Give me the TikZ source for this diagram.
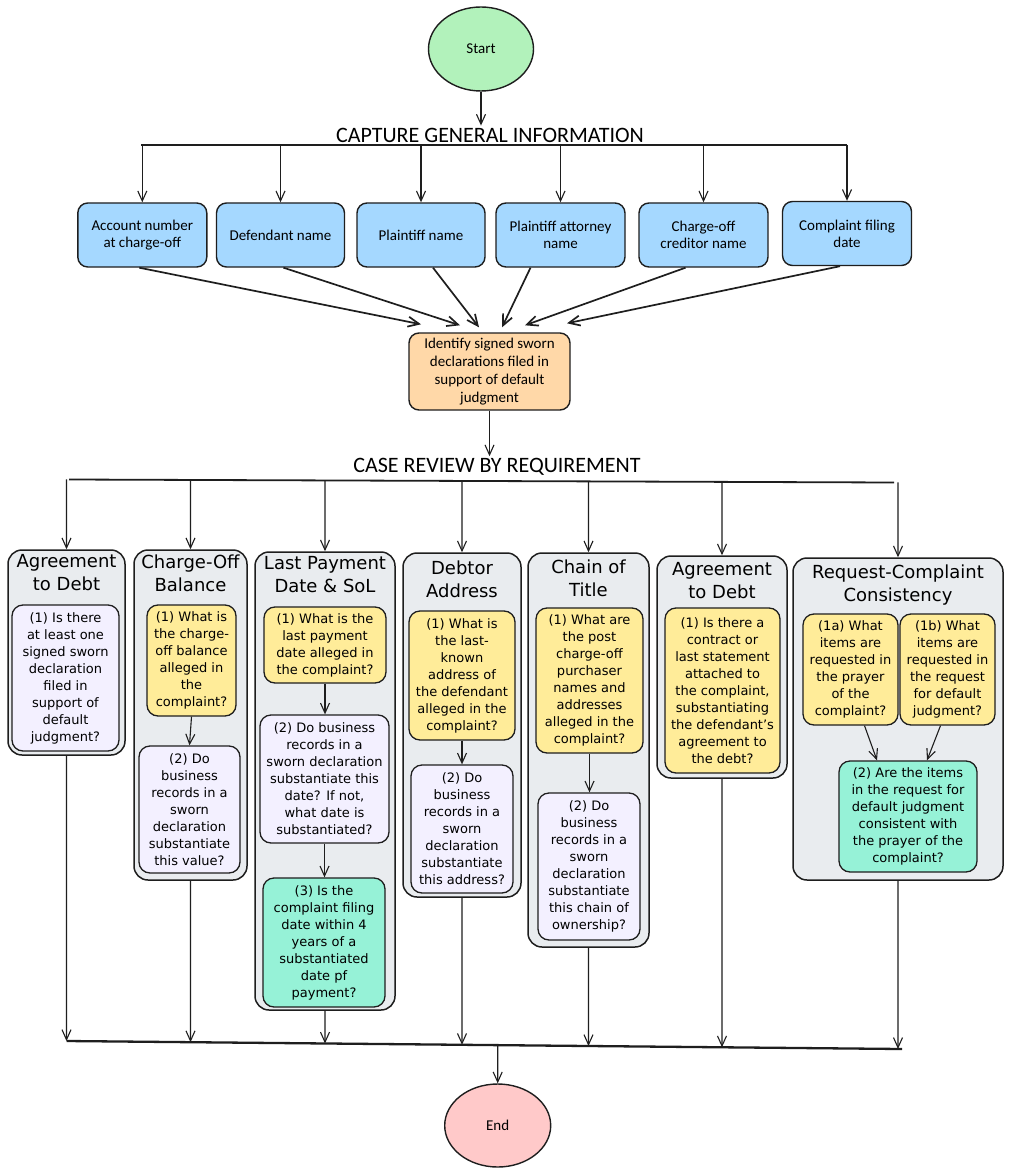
\documentclass[tikz,border=0pt]{standalone}
\usepackage{fontspec}
\setmainfont{DejaVu Sans}
\newfontfamily\handfont{Carlito}
\usetikzlibrary{arrows.meta,positioning,calc,shapes.geometric}
\definecolor{startgreen}{HTML}{B2F2BB}
\definecolor{endpink}{HTML}{FFC9C9}
\definecolor{infoblue}{HTML}{A5D8FF}
\definecolor{declorange}{HTML}{FFD8A8}
\definecolor{contgray}{HTML}{E9ECEF}
\definecolor{qyellow}{HTML}{FFEC99}
\definecolor{qlav}{HTML}{F3F0FF}
\definecolor{qgreen}{HTML}{96F2D7}
\definecolor{ink}{HTML}{1E1E1E}
\tikzset{
  oval/.style={ellipse, draw=ink, line width=1.4pt, inner sep=0pt,
    font=\handfont\fontsize{15}{17}\selectfont},
  infobox/.style={draw=ink, fill=infoblue, rounded corners=10pt, line width=1.4pt,
    align=center, inner sep=3pt, font=\handfont\fontsize{15}{17}\selectfont},
  declbox/.style={draw=ink, fill=declorange, rounded corners=10pt, line width=1.4pt,
    align=center, inner sep=3pt, font=\handfont\fontsize{15}{18}\selectfont},
  heading/.style={font=\handfont\fontsize{22}{24}\selectfont, inner sep=2pt},
  cont/.style={draw=ink, fill=contgray, rounded corners=14pt, line width=1.5pt, inner sep=0pt},
  ctitle/.style={align=center, inner sep=2pt, font=\fontsize{18}{23}\selectfont},
  qbox/.style={draw=ink, rounded corners=11pt, line width=1.3pt, align=center,
    inner sep=3pt, font=\fontsize{13}{17}\selectfont},
  qyel/.style={qbox, fill=qyellow},
  qlv/.style={qbox, fill=qlav},
  qgr/.style={qbox, fill=qgreen},
  arr/.style={draw=ink, line width=1.1pt, -{Straight Barb[length=10pt,width=9pt]}},
  thickarr/.style={draw=ink, line width=1.7pt, -{Straight Barb[length=11pt,width=10pt]}},
  barline/.style={draw=ink, line width=2.3pt},
}
\begin{document}
\begin{tikzpicture}[x=1pt,y=-1pt]
\useasboundingbox (0,0) rectangle (1011,1174);
\fill[white] (0,0) rectangle (1011,1174);

% ---------- top ----------
\node[oval, fill=startgreen, minimum width=105, minimum height=84] (start) at (481,49) {Start};
\node[heading] (title1) at (490,135) {CAPTURE GENERAL INFORMATION};
\coordinate (barA1) at (141,145);
\coordinate (barA2) at (847,145);
\draw[arr] (start.south) -- (start.south |- title1.north);
\draw[barline] (barA1) -- (barA2);

\node[infobox, minimum width=129, minimum height=64] (b1) at (142.3,235) {Account number\\at charge-off};
\node[infobox, minimum width=128, minimum height=64] (b2) at (280.5,235) {Defendant name};
\node[infobox, minimum width=128, minimum height=64] (b3) at (421,235) {Plaintiff name};
\node[infobox, minimum width=129, minimum height=64] (b4) at (560.5,235) {Plaintiff attorney\\name};
\node[infobox, minimum width=129, minimum height=64] (b5) at (703.5,235) {Charge-off\\creditor name};
\node[infobox, minimum width=129, minimum height=64] (b6) at (847,233.5) {Complaint filing\\date};

\foreach \bn in {b1,b2,b3,b4,b5,b6}
  \draw[arr] (\bn.north |- barA1) -- (\bn.north);

\node[declbox, minimum width=161, minimum height=77] (decl) at (489.5,371.5)
  {Identify signed sworn\\declarations filed in\\support of default\\judgment};

\draw[thickarr] ([xshift=-3pt]b1.south) -- ($(decl.north)+(-68.5,-8)$);
\draw[thickarr] ([xshift=3pt]b2.south) -- ($(decl.north)+(-29.5,-7)$);
\draw[thickarr] ([xshift=12pt]b3.south) -- ($(decl.north)+(-10.5,-5)$);
\draw[thickarr] ([xshift=-30pt]b4.south) -- ($(decl.north)+(12.5,-5)$);
\draw[thickarr] ([xshift=-18pt]b5.south) -- ($(decl.north)+(35.5,-7)$);
\draw[thickarr] ([xshift=-7pt]b6.south) -- ($(decl.north)+(77.5,-9)$);

\node[heading] (title2) at (497,467) {CASE REVIEW BY REQUIREMENT};
\draw[arr] (decl.south) -- (decl.south |- title2.north);
\coordinate (barB1) at (69,479.5);
\coordinate (barB2) at (894,482.5);
\draw[barline, line width=1.8pt] (barB1) -- (barB2);

% ---------- containers ----------
\node[cont, minimum width=117, minimum height=205] (c1) at (66.5,652.5) {};
\node[cont, minimum width=113, minimum height=330] (c2) at (190.5,715) {};
\node[cont, minimum width=140, minimum height=458] (c3) at (325,781) {};
\node[cont, minimum width=118, minimum height=344] (c4) at (462,725) {};
\node[cont, minimum width=121, minimum height=394] (c5) at (588.5,750) {};
\node[cont, minimum width=130, minimum height=222] (c6) at (722,667) {};
\node[cont, minimum width=210, minimum height=322] (c7) at (898,719) {};

\foreach \cn in {c1,c2,c3,c4,c5,c6,c7}{
  \coordinate (\cn high) at ($(\cn.north)+(0,-120)$);
  \draw[arr] (intersection of \cn.north--\cn high and barB1--barB2) -- (\cn.north);
}

\node[ctitle, below=3pt of c1.north] (t1) {Agreement\\to Debt};
\node[ctitle, below=3pt of c2.north] (t2) {Charge-Off\\Balance};
\node[ctitle, below=3pt of c3.north] (t3) {Last Payment\\Date \& SoL};
\node[ctitle, below=6pt of c4.north] (t4) {Debtor\\Address};
\node[ctitle, below=5pt of c5.north] (t5) {Chain of\\Title};
\node[ctitle, below=5pt of c6.north] (t6) {Agreement\\to Debt};
\node[ctitle, below=5pt of c7.north] (t7) {Request-Complaint\\Consistency};

% column 1
\node[qlv, minimum width=107, minimum height=146] (q11) at (65.5,678)
  {(1) Is there\\at least one\\signed sworn\\declaration\\filed in\\support of\\default\\judgment?};

% column 2
\node[qyel, minimum width=89, minimum height=111] (q21) at (191.5,660.5)
  {(1) What is\\the charge-\\off balance\\alleged in\\the\\complaint?};
\node[qlv, minimum width=101, minimum height=127] (q22) at (189.5,809.5)
  {(2) Do\\business\\records in a\\sworn\\declaration\\substantiate\\this value?};
\draw[arr] (q21.south) -- (q22.north);

% column 3
\node[qyel, minimum width=122, minimum height=76] (q31) at (325,645)
  {(1) What is the\\last payment\\date alleged in\\the complaint?};
\node[qlv, minimum width=129, minimum height=128] (q32) at (324.5,779)
  {(2) Do business\\records in a\\sworn declaration\\substantiate this\\date? If not,\\what date is\\substantiated?};
\node[qgr, minimum width=122, minimum height=129] (q33) at (324,942.5)
  {(3) Is the\\complaint filing\\date within 4\\years of a\\substantiated\\date pf\\payment?};
\draw[arr] (q31.south) -- (q31.south |- q32.north);
\draw[arr] (q32.south) -- (q32.south |- q33.north);

% column 4
\node[qyel, minimum width=106, minimum height=129] (q41) at (462,675.5)
  {(1) What is\\the last-\\known\\address of\\the defendant\\alleged in the\\complaint?};
\node[qlv, minimum width=102, minimum height=128] (q42) at (462,829)
  {(2) Do\\business\\records in a\\sworn\\declaration\\substantiate\\this address?};
\draw[arr] (q41.south) -- (q42.north);

% column 5
\node[qyel, minimum width=107, minimum height=145] (q51) at (589.5,680.5)
  {(1) What are\\the post\\charge-off\\purchaser\\names and\\addresses\\alleged in the\\complaint?};
\node[qlv, minimum width=102, minimum height=147] (q52) at (589,866.5)
  {(2) Do\\business\\records in a\\sworn\\declaration\\substantiate\\this chain of\\ownership?};
\draw[arr] (q51.south) -- (q51.south |- q52.north);

% column 6
\node[qyel, minimum width=115, minimum height=165] (q61) at (722.5,690.5)
  {(1) Is there a\\contract or\\last statement\\attached to\\the complaint,\\substantiating\\the defendant's\\agreement to\\the debt?};

% column 7
\node[qyel, minimum width=95, minimum height=111] (q7a) at (850.5,669.5)
  {(1a) What\\items are\\requested in\\the prayer\\of the\\complaint?};
\node[qyel, minimum width=95, minimum height=111] (q7b) at (947.5,669.5)
  {(1b) What\\items are\\requested in\\the request\\for default\\judgment?};
\node[qgr, minimum width=138, minimum height=111] (q72) at (908,816.5)
  {(2) Are the items\\in the request for\\default judgment\\consistent with\\the prayer of the\\complaint?};
\draw[arr] ([xshift=14pt]q7a.south) -- ([xshift=-31pt]q72.north);
\draw[arr] ([xshift=-7pt]q7b.south) -- ([xshift=19pt]q72.north);

% ---------- bottom ----------
\coordinate (barC1) at (66.6,1041);
\coordinate (barC2) at (902,1049);
\foreach \cn in {c1,c2,c3,c4,c5,c6,c7}{
  \coordinate (\cn low) at ($(\cn.south)+(0,400)$);
  \draw[arr] (\cn.south) -- (intersection of \cn.south--\cn low and barC1--barC2);
}
\draw[barline] (barC1) -- (barC2);

\node[oval, fill=endpink, minimum width=106, minimum height=83] (endn) at (497.7,1125.5) {End};
\coordinate (endhigh) at ($(endn.north)+(0,-120)$);
\draw[arr] (intersection of endn.north--endhigh and barC1--barC2) -- (endn.north);
\end{tikzpicture}
\end{document}
